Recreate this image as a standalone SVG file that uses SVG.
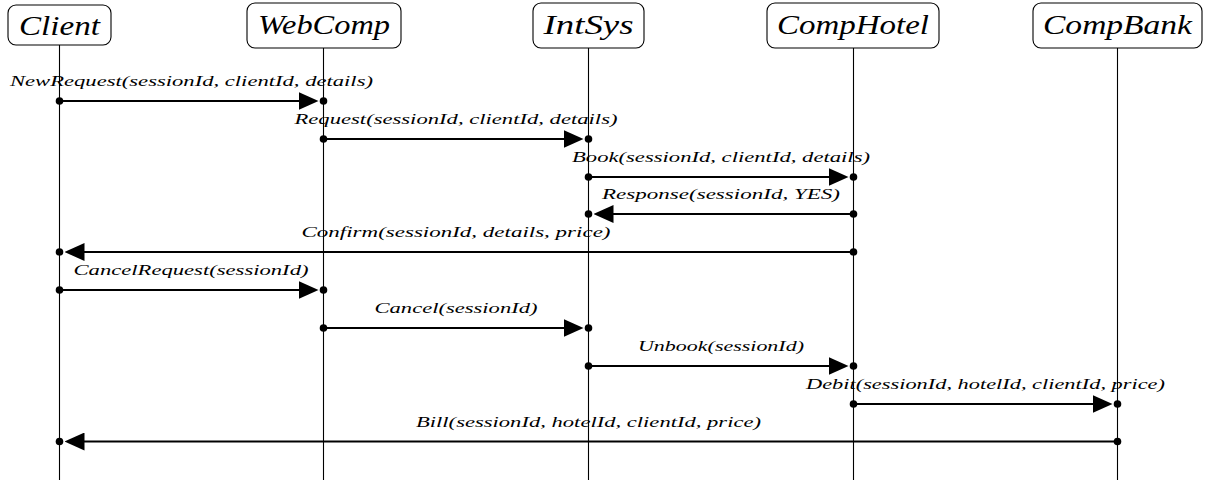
<svg xmlns="http://www.w3.org/2000/svg" width="1216" height="482" viewBox="0 0 1216 482">
<style>
.box{fill:#fff;stroke:#000;stroke-width:1.1}
.life{stroke:#000;stroke-width:1.1}
.hd{font-family:"Liberation Serif",serif;font-style:italic;font-size:27px;text-anchor:middle;fill:#000}
.lb{font-family:"Liberation Serif",serif;font-style:italic;font-size:15px;text-anchor:middle;fill:#000}
.msg{stroke:#000;stroke-width:2;fill:none;marker-end:url(#ah)}
.dot{fill:#000}
</style>
<defs>
<marker id="ah" markerUnits="userSpaceOnUse" markerWidth="20" markerHeight="18" viewBox="0 0 20 18" refX="10" refY="9" orient="auto">
<path d="M0,0 L20,9 L0,18 z" fill="#000"/>
</marker>
</defs>
<g id="lifelines">
<line class="life" x1="59.5" y1="45" x2="59.5" y2="480"/>
<line class="life" x1="323.5" y1="48" x2="323.5" y2="480"/>
<line class="life" x1="588.5" y1="48" x2="588.5" y2="480"/>
<line class="life" x1="853.5" y1="48" x2="853.5" y2="480"/>
<line class="life" x1="1117.5" y1="48" x2="1117.5" y2="480"/>
</g>
<g id="Client"><rect class="box" x="8" y="5" width="103" height="40" rx="8"/><text class="hd" x="59.5" y="35" textLength="81" lengthAdjust="spacingAndGlyphs">Client</text></g>
<g id="WebComp"><rect class="box" x="247" y="3" width="154" height="45" rx="8"/><text class="hd" x="324" y="34" textLength="132" lengthAdjust="spacingAndGlyphs">WebComp</text></g>
<g id="IntSys"><rect class="box" x="533" y="3" width="111" height="45" rx="8"/><text class="hd" x="588.5" y="34" textLength="90" lengthAdjust="spacingAndGlyphs">IntSys</text></g>
<g id="CompHotel"><rect class="box" x="767" y="3" width="172" height="45" rx="8"/><text class="hd" x="853" y="34" textLength="152" lengthAdjust="spacingAndGlyphs">CompHotel</text></g>
<g id="CompBank"><rect class="box" x="1033" y="3" width="169" height="45" rx="8"/><text class="hd" x="1117.5" y="34" textLength="149" lengthAdjust="spacingAndGlyphs">CompBank</text></g>
<g id="connectors">
<line class="msg" x1="59.5" y1="101" x2="308.5" y2="101"/>
<line class="msg" x1="323.5" y1="139" x2="573.5" y2="139"/>
<line class="msg" x1="588.5" y1="177" x2="838.5" y2="177"/>
<line class="msg" x1="853.5" y1="214" x2="603.5" y2="214"/>
<line class="msg" x1="853.5" y1="252" x2="74.5" y2="252"/>
<line class="msg" x1="59.5" y1="290" x2="308.5" y2="290"/>
<line class="msg" x1="323.5" y1="328" x2="573.5" y2="328"/>
<line class="msg" x1="588.5" y1="366" x2="838.5" y2="366"/>
<line class="msg" x1="853.5" y1="404" x2="1102.5" y2="404"/>
<line class="msg" x1="1117.5" y1="441.5" x2="74.5" y2="441.5"/>
<g class="dot">
<circle cx="59.5" cy="101" r="3.8"/><circle cx="323.5" cy="101" r="3.8"/>
<circle cx="323.5" cy="139" r="3.8"/><circle cx="588.5" cy="139" r="3.8"/>
<circle cx="588.5" cy="177" r="3.8"/><circle cx="853.5" cy="177" r="3.8"/>
<circle cx="853.5" cy="214" r="3.8"/><circle cx="588.5" cy="214" r="3.8"/>
<circle cx="853.5" cy="252" r="3.8"/><circle cx="59.5" cy="252" r="3.8"/>
<circle cx="59.5" cy="290" r="3.8"/><circle cx="323.5" cy="290" r="3.8"/>
<circle cx="323.5" cy="328" r="3.8"/><circle cx="588.5" cy="328" r="3.8"/>
<circle cx="588.5" cy="366" r="3.8"/><circle cx="853.5" cy="366" r="3.8"/>
<circle cx="853.5" cy="404" r="3.8"/><circle cx="1117.5" cy="404" r="3.8"/>
<circle cx="1117.5" cy="441.5" r="3.8"/><circle cx="59.5" cy="441.5" r="3.8"/>
</g>
<text class="lb" x="191.5" y="86" textLength="363" lengthAdjust="spacingAndGlyphs">NewRequest(sessionId, clientId, details)</text>
<text class="lb" x="456" y="124" textLength="323" lengthAdjust="spacingAndGlyphs">Request(sessionId, clientId, details)</text>
<text class="lb" x="721" y="162" textLength="298" lengthAdjust="spacingAndGlyphs">Book(sessionId, clientId, details)</text>
<text class="lb" x="721" y="199" textLength="238" lengthAdjust="spacingAndGlyphs">Response(sessionId, YES)</text>
<text class="lb" x="456" y="237" textLength="309" lengthAdjust="spacingAndGlyphs">Confirm(sessionId, details, price)</text>
<text class="lb" x="191" y="275" textLength="235" lengthAdjust="spacingAndGlyphs">CancelRequest(sessionId)</text>
<text class="lb" x="456" y="313" textLength="163" lengthAdjust="spacingAndGlyphs">Cancel(sessionId)</text>
<text class="lb" x="721" y="351" textLength="166" lengthAdjust="spacingAndGlyphs">Unbook(sessionId)</text>
<text class="lb" x="985.5" y="389" textLength="359" lengthAdjust="spacingAndGlyphs">Debit(sessionId, hotelId, clientId, price)</text>
<text class="lb" x="588.5" y="426.5" textLength="345" lengthAdjust="spacingAndGlyphs">Bill(sessionId, hotelId, clientId, price)</text>
</g>
</svg>
